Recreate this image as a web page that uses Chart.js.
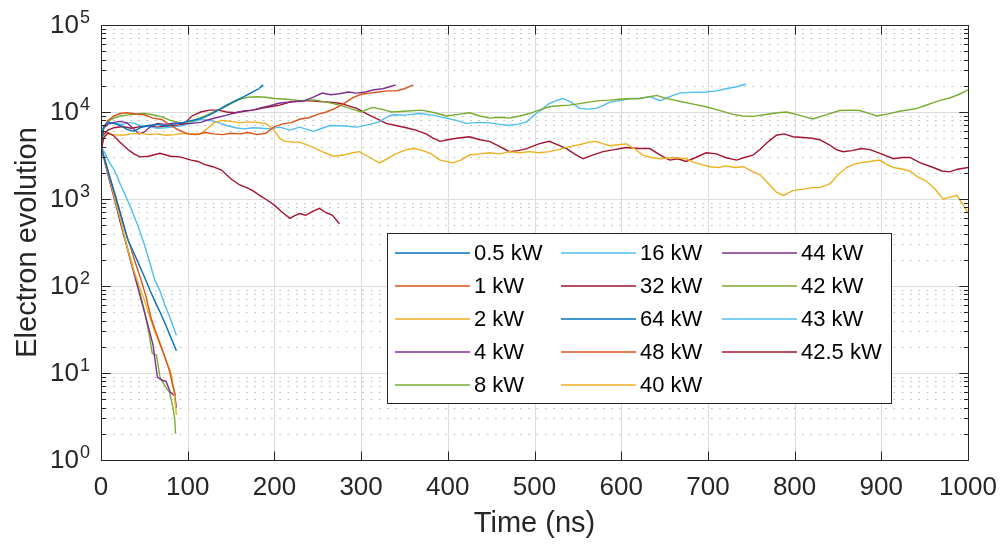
<!DOCTYPE html>
<html>
<head>
<meta charset="utf-8">
<script src="https://cdn.jsdelivr.net/npm/chart.js@4/dist/chart.umd.min.js"></script>
<style>
  html, body { margin: 0; padding: 0; background: #fff; }
  #wrap { width: 1004px; height: 546px; }
</style>
</head>
<body>
<div id="wrap"><canvas id="chart" width="1004" height="546"></canvas></div>
<script>
// Time (ns) / electron count

// --- decaying runs ---
const t05 = [0, 5, 10, 16, 23, 31, 38, 44, 50, 57, 63, 69, 75, 81, 87];
const n05 = [4000, 2700, 1800, 1150, 650, 337, 240, 175, 128, 87, 64, 48, 35, 25, 18];

const t1 = [0, 5, 10, 16, 22, 28, 34, 40, 46, 52, 58, 63, 68, 73, 79, 83, 86];
const n1 = [4000, 2700, 1800, 1100, 700, 430, 280, 180, 120, 75, 42, 30, 22, 16, 10.5, 7, 5.5];

const t2 = [0, 5, 10, 16, 22, 31, 38, 44, 50, 56, 62, 69, 75, 81, 84, 87];
const n2 = [4000, 2600, 1700, 1000, 600, 260, 150, 100, 69, 45, 30, 20, 14, 9.9, 6.5, 3.3];

const t4 = [0, 5, 10, 16, 22, 28, 35, 42, 49, 55, 60, 65, 70, 75, 80, 85, 87];
const n4 = [4000, 2500, 1600, 950, 550, 330, 180, 100, 55, 33, 21, 9, 8.3, 8, 6, 5.5, 4];

const t8 = [0, 5, 10, 16, 22, 28, 35, 42, 49, 55, 59, 64, 68, 74, 79, 83, 85, 86];
const n8 = [4000, 2600, 1650, 1000, 580, 340, 190, 105, 58, 30, 17, 16, 9, 7, 6, 4, 3, 2];

const t16 = [0, 5, 10, 16, 22, 30, 36, 43, 50, 56, 62, 68, 73, 80, 87];
const n16 = [4000, 3300, 2600, 2100, 1500, 1000, 720, 480, 300, 190, 117, 88, 63, 42, 27];

// --- short rising / falling runs ---
const t32 = [0, 3, 8, 15, 22, 31, 38, 45, 55, 68, 80, 91, 104, 112, 119, 129, 139, 150, 160, 168, 175, 183, 191, 200, 210, 218, 223, 229, 236, 244, 252, 259, 267, 275];
const n32 = [3500, 5000, 5800, 5300, 4500, 3700, 3300, 3050, 3100, 3350, 3100, 3050, 2800, 2700, 2500, 2350, 2150, 1700, 1450, 1350, 1250, 1100, 980, 850, 690, 600, 640, 680, 650, 720, 780, 700, 650, 520];

const t64 = [0, 3, 8, 15, 22, 30, 38, 45, 55, 65, 75, 85, 95, 105, 115, 125, 135, 145, 155, 165, 175, 182, 187];
const n64 = [4000, 6800, 7600, 7400, 7000, 6300, 6000, 6600, 7000, 7200, 6900, 7300, 7600, 8000, 8400, 9200, 10500, 12000, 13500, 15000, 17000, 18500, 20500];

const t48 = [0, 3, 8, 15, 22, 30, 40, 50, 60, 70, 80, 90, 100, 110, 120, 130, 140, 150, 160, 170, 180, 190, 200, 210, 220, 230, 240, 250, 260, 270, 280, 290, 300, 310, 320, 330, 340, 350, 360];
const n48 = [4000, 6500, 8000, 9000, 9600, 9800, 9500, 9300, 8500, 8200, 7000, 6200, 5600, 5500, 5800, 5600, 5500, 5700, 5600, 5800, 5500, 5700, 6800, 7300, 7600, 8300, 8600, 9400, 10000, 11000, 12500, 14500, 16000, 16500, 17000, 17500, 17500, 18500, 20500];

const t44 = [0, 3, 8, 15, 22, 30, 37, 44, 50, 57, 65, 75, 85, 95, 105, 115, 125, 135, 145, 155, 165, 175, 185, 195, 205, 215, 225, 235, 245, 255, 265, 275, 285, 295, 305, 315, 325, 333, 340];
const n44 = [4000, 6500, 7200, 7600, 7800, 7500, 6500, 5600, 5900, 6800, 7400, 7200, 7500, 7300, 7400, 7600, 8200, 8700, 9200, 9800, 10300, 10500, 11200, 11800, 12600, 13000, 13300, 13500, 14800, 16500, 15800, 16200, 17000, 16500, 17000, 18000, 18500, 19500, 20500];

// --- long runs ---
const t40 = [0, 3, 8, 15, 25, 35, 45, 55, 65, 75, 85, 95, 105, 115, 123, 130, 139, 150, 160, 170, 180, 190, 199, 206, 212, 222, 229, 240, 248, 258, 268, 280, 290, 298, 310, 321, 330, 340, 352, 362, 371, 381, 391, 406, 415, 425, 437, 448, 460, 471, 483, 494, 505, 517, 528, 540, 552, 563, 571, 580, 587, 597, 606, 615, 625, 635, 645, 660, 675, 683, 692, 702, 712, 721, 731, 741, 750, 760, 770, 779, 787, 798, 810, 820, 829, 841, 850, 860, 868, 875, 887, 898, 906, 914, 925, 933, 942, 952, 962, 971, 980, 987, 993, 1000];
const n40 = [4000, 5200, 5600, 5500, 5400, 5600, 5700, 5500, 5600, 5400, 5500, 5700, 5600, 5600, 6500, 7500, 8000, 7800, 7500, 7700, 7600, 7400, 6300, 5000, 4600, 4500, 4500, 4100, 3800, 3400, 3100, 3200, 3400, 3500, 3000, 2600, 2900, 3300, 3700, 3800, 3600, 3300, 2800, 2600, 2800, 3200, 3300, 3400, 3300, 3500, 3400, 3500, 3400, 3500, 3700, 4000, 4200, 4500, 4600, 4300, 4100, 4200, 4300, 3800, 3200, 3000, 2900, 3000, 2900, 2650, 2500, 2350, 2300, 2400, 2300, 2350, 2100, 1900, 1500, 1200, 1100, 1250, 1300, 1350, 1350, 1500, 1900, 2300, 2500, 2600, 2700, 2800, 2500, 2300, 2200, 2100, 1800, 1600, 1300, 1000, 1050, 1100, 900, 690];

const t42 = [0, 3, 8, 15, 22, 30, 40, 50, 60, 70, 80, 90, 100, 110, 120, 130, 140, 150, 160, 170, 180, 190, 200, 215, 230, 245, 260, 275, 290, 300, 313, 325, 335, 350, 370, 385, 398, 412, 425, 437, 448, 460, 471, 483, 494, 505, 517, 528, 540, 552, 563, 575, 587, 598, 610, 621, 633, 641, 650, 660, 667, 680, 698, 712, 729, 740, 752, 765, 780, 791, 805, 821, 835, 852, 865, 875, 885, 895, 908, 921, 932, 941, 950, 960, 970, 979, 990, 1000];
const n42 = [4000, 6500, 7800, 8500, 9000, 9200, 9500, 9600, 9300, 8800, 8000, 7600, 7500, 8200, 9000, 10000, 11000, 12500, 14000, 14800, 15000, 14800, 14300, 14000, 13500, 13800, 13000, 12000, 10800, 10000, 11300, 10700, 10000, 10200, 10500, 9800, 9000, 9400, 9800, 9000, 8500, 8700, 8500, 9000, 9600, 10500, 11500, 11800, 12000, 12500, 13000, 13500, 13700, 14000, 14200, 14300, 15000, 15500, 14500, 13800, 13300, 12500, 11500, 10500, 9400, 9000, 8900, 9300, 9800, 10000, 9200, 8300, 9200, 10400, 10500, 10400, 9700, 9000, 9500, 10200, 10600, 11000, 11800, 12800, 13800, 14500, 16000, 18000];

const t43 = [0, 3, 8, 15, 25, 35, 45, 55, 65, 75, 85, 95, 105, 115, 125, 135, 145, 155, 165, 175, 185, 195, 206, 218, 229, 245, 255, 264, 280, 295, 310, 321, 330, 337, 350, 367, 383, 398, 410, 421, 437, 448, 460, 471, 482, 491, 502, 510, 517, 525, 533, 542, 552, 562, 571, 580, 587, 598, 610, 621, 633, 645, 656, 667, 680, 698, 710, 721, 733, 744];
const n43 = [4000, 6800, 7600, 7400, 7200, 7600, 7000, 6800, 6500, 6600, 6800, 7000, 7600, 8200, 8000, 7600, 7000, 6600, 6400, 6600, 6500, 6400, 6700, 6200, 6700, 6000, 6500, 7000, 6900, 6700, 7200, 7700, 8800, 9300, 9200, 9600, 9200, 8500, 8000, 7400, 7600, 7500, 7200, 7000, 7300, 7700, 9600, 11000, 12500, 13500, 14300, 13000, 11000, 10800, 11000, 12000, 13000, 13500, 14300, 14300, 15000, 13500, 15000, 16500, 16800, 17000, 17500, 18500, 19500, 21000];

const t425 = [0, 3, 8, 15, 25, 35, 45, 55, 65, 75, 85, 95, 105, 115, 125, 135, 145, 155, 165, 175, 185, 195, 206, 218, 229, 240, 252, 264, 275, 283, 295, 306, 318, 329, 340, 352, 363, 375, 383, 391, 400, 410, 425, 437, 448, 460, 471, 481, 491, 505, 517, 527, 537, 546, 556, 567, 579, 592, 606, 620, 633, 645, 656, 665, 675, 686, 698, 710, 720, 733, 742, 752, 760, 770, 779, 788, 798, 810, 820, 829, 840, 848, 856, 866, 877, 887, 900, 914, 924, 933, 945, 960, 970, 979, 988, 1000];
const n425 = [3600, 5500, 6200, 6600, 6800, 6500, 6800, 7000, 6700, 6900, 7000, 7200, 9000, 10000, 10500, 10500, 10000, 9800, 10200, 10500, 11000, 11500, 12000, 13000, 13300, 13500, 13200, 13000, 12600, 12000, 11000, 9600, 8400, 7400, 7000, 6600, 6200, 5600, 5000, 4600, 4800, 5000, 5200, 4800, 4600, 4000, 3500, 3600, 3800, 4300, 4600, 4200, 3800, 3300, 2900, 3200, 3500, 3700, 3900, 3800, 3800, 3200, 2800, 2900, 2700, 3000, 3400, 3300, 3000, 2800, 3000, 3200, 3700, 4600, 5400, 5600, 5200, 5100, 5000, 4800, 4200, 3700, 3500, 3600, 3800, 3700, 3300, 2900, 3000, 3000, 2600, 2300, 2100, 2050, 2200, 2300];

// legend order = plot order
const seriesLabels = ['0.5 kW', '1 kW', '2 kW', '4 kW', '8 kW', '16 kW', '32 kW', '64 kW', '48 kW', '40 kW', '44 kW', '42 kW', '43 kW', '42.5 kW'];
const seriesTimes = [t05, t1, t2, t4, t8, t16, t32, t64, t48, t40, t44, t42, t43, t425];
const seriesCounts = [n05, n1, n2, n4, n8, n16, n32, n64, n48, n40, n44, n42, n43, n425];
const palette = ['#0072BD', '#D95319', '#EDB120', '#7E2F8E', '#77AC30', '#4DBEEE', '#A2142F'];

const xTicks = [0, 100, 200, 300, 400, 500, 600, 700, 800, 900, 1000];
const yExponents = [0, 1, 2, 3, 4, 5];

const FONT = '"Liberation Sans", Arial, Helvetica, sans-serif';
const INK = '#262626';

const datasets = seriesLabels.map((label, i) => ({
	label: label,
	data: seriesTimes[i].map((t, j) => ({x: t, y: seriesCounts[i][j]})),
	borderColor: palette[i % palette.length],
	backgroundColor: palette[i % palette.length],
	borderWidth: 1.4,
	pointRadius: 0,
	tension: 0,
	fill: false,
}));

// MATLAB-looking axes: grid, inward ticks, box, labels
const matlabAxes = {
	id: 'matlabAxes',
	beforeDatasetsDraw(chart) {
		const {ctx, chartArea: a, scales: {x, y}} = chart;
		ctx.save();
		ctx.lineWidth = 1;
		// minor y grid (dotted)
		ctx.strokeStyle = 'rgba(38,38,38,0.3)';
		ctx.setLineDash([1.6, 6.7]);
		for (let k = 0; k < 5; k++) {
			for (let m = 2; m <= 9; m++) {
				const py = Math.round(y.getPixelForValue(m * Math.pow(10, k))) + 0.5;
				ctx.beginPath();
				ctx.moveTo(a.left + 4, py);
				ctx.lineTo(a.right, py);
				ctx.stroke();
			}
		}
		ctx.setLineDash([]);
		// major grid
		ctx.strokeStyle = '#dcdcdc';
		yExponents.slice(1, -1).forEach(e => {
			const py = Math.round(y.getPixelForValue(Math.pow(10, e))) + 0.5;
			ctx.beginPath();
			ctx.moveTo(a.left, py);
			ctx.lineTo(a.right, py);
			ctx.stroke();
		});
		xTicks.slice(1, -1).forEach(v => {
			const px = Math.round(x.getPixelForValue(v)) + 0.5;
			ctx.beginPath();
			ctx.moveTo(px, a.top);
			ctx.lineTo(px, a.bottom);
			ctx.stroke();
		});
		ctx.restore();
	},
	afterDatasetsDraw(chart) {
		const {ctx, chartArea: a, scales: {x, y}} = chart;
		ctx.save();
		ctx.strokeStyle = INK;
		ctx.lineWidth = 1;
		const L = Math.round(a.left) + 0.5, R = Math.round(a.right) + 0.5;
		const T = Math.round(a.top) + 0.5, B = Math.round(a.bottom) + 0.5;
		ctx.strokeRect(L, T, R - L, B - T);

		// ticks, pointing in
		ctx.beginPath();
		xTicks.forEach(v => {
			const px = Math.round(x.getPixelForValue(v)) + 0.5;
			ctx.moveTo(px, B); ctx.lineTo(px, B - 9);
			ctx.moveTo(px, T); ctx.lineTo(px, T + 9);
		});
		for (let k = 0; k < 5; k++) {
			for (let m = 1; m <= 10; m++) {
				const py = Math.round(y.getPixelForValue(m * Math.pow(10, k))) + 0.5;
				const len = (m === 1 || m === 10) ? 9 : 4.5;
				ctx.moveTo(L, py); ctx.lineTo(L + len, py);
				ctx.moveTo(R, py); ctx.lineTo(R - len, py);
			}
		}
		ctx.stroke();

		// tick labels
		ctx.fillStyle = INK;
		ctx.font = '26px ' + FONT;
		ctx.textAlign = 'center';
		ctx.textBaseline = 'middle';
		xTicks.forEach(v => ctx.fillText(String(v), x.getPixelForValue(v), a.bottom + 28));
		yExponents.forEach(e => {
			const py = y.getPixelForValue(Math.pow(10, e));
			ctx.font = '26px ' + FONT;
			ctx.textAlign = 'right';
			ctx.textBaseline = 'middle';
			ctx.fillText('10', a.left - 22, py + 1);
			ctx.font = '18px ' + FONT;
			ctx.textAlign = 'left';
			ctx.textBaseline = 'alphabetic';
			ctx.fillText(String(e), a.left - 21, py - 2);
		});

		// axis titles
		ctx.font = '29px ' + FONT;
		ctx.textAlign = 'center';
		ctx.textBaseline = 'middle';
		ctx.fillText('Time (ns)', (a.left + a.right) / 2, a.bottom + 64);
		ctx.translate(28, (a.top + a.bottom) / 2);
		ctx.rotate(-Math.PI / 2);
		ctx.fillText('Electron evolution', 0, 0);
		ctx.restore();

		// legend: boxed, 3 columns, filled column by column
		const box = {left: 387, top: 233, width: 504, height: 170};
		const colX = [395, 561, 722];
		const rowH = 33;
		const rows = 5;
		ctx.save();
		ctx.fillStyle = '#fff';
		ctx.fillRect(box.left, box.top, box.width, box.height);
		ctx.strokeStyle = INK;
		ctx.lineWidth = 1;
		ctx.strokeRect(box.left + 0.5, box.top + 0.5, box.width, box.height);
		ctx.font = '22px ' + FONT;
		ctx.textAlign = 'left';
		ctx.textBaseline = 'middle';
		chart.data.datasets.forEach((ds, i) => {
			const col = Math.floor(i / rows), row = i % rows;
			const lx = colX[col];
			const ly = box.top + 20 + row * rowH;
			ctx.strokeStyle = ds.borderColor;
			ctx.lineWidth = 1.6;
			ctx.beginPath();
			ctx.moveTo(lx, ly);
			ctx.lineTo(lx + 75, ly);
			ctx.stroke();
			ctx.fillStyle = '#000';
			ctx.fillText(ds.label, lx + 79, ly + 1);
		});
		ctx.restore();
	}
};

new Chart(document.getElementById('chart'), {
	type: 'line',
	data: {datasets: datasets},
	options: {
		responsive: false,
		animation: false,
		devicePixelRatio: 1,
		layout: {padding: {left: 101, top: 25, right: 36, bottom: 86}},
		plugins: {
			legend: {display: false},
			tooltip: {enabled: false},
		},
		scales: {
			x: {type: 'linear', min: 0, max: 1000, display: false},
			y: {type: 'logarithmic', min: 1, max: 100000, display: false},
		},
	},
	plugins: [matlabAxes],
});
</script>
</body>
</html>
